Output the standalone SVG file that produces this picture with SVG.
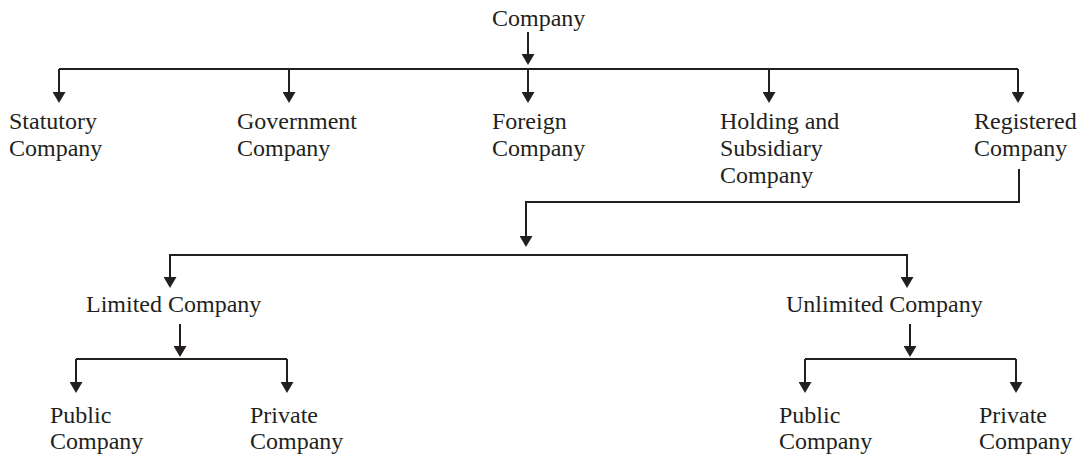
<svg xmlns="http://www.w3.org/2000/svg" width="1087" height="455" viewBox="0 0 1087 455">
<style>
text{font-family:"Liberation Serif","Times New Roman",serif;font-size:24px;fill:#231f20}
.c{fill:none;stroke:#231f20;stroke-width:2}
</style>
<defs>
<marker id="ah" viewBox="0 0 11 13" markerWidth="11" markerHeight="13" refX="5" refY="6.5" markerUnits="userSpaceOnUse" orient="auto">
<path d="M0,0 L11,6.5 L0,13 z" fill="#231f20"/>
</marker>
</defs>
<rect width="1087" height="455" fill="#fff"/>
<g id="connectors">
<path class="c" d="M528,32 V59" marker-end="url(#ah)"/>
<path class="c" d="M59,69 H1018"/>
<path class="c" d="M59,69 V97" marker-end="url(#ah)"/>
<path class="c" d="M289,69 V97" marker-end="url(#ah)"/>
<path class="c" d="M528,69 V97" marker-end="url(#ah)"/>
<path class="c" d="M769,69 V97" marker-end="url(#ah)"/>
<path class="c" d="M1018,69 V97" marker-end="url(#ah)"/>
<path class="c" d="M1019,169 V202 H526 V241" marker-end="url(#ah)"/>
<path class="c" d="M170,282 V255 H907 V282" marker-end="url(#ah)"/>
<path class="c" d="M170,255 V282" marker-end="url(#ah)"/>
<path class="c" d="M180,324 V351" marker-end="url(#ah)"/>
<path class="c" d="M76,359 H287"/>
<path class="c" d="M76,359 V387" marker-end="url(#ah)"/>
<path class="c" d="M287,359 V387" marker-end="url(#ah)"/>
<path class="c" d="M910,324 V351" marker-end="url(#ah)"/>
<path class="c" d="M805,359 H1016"/>
<path class="c" d="M805,359 V387" marker-end="url(#ah)"/>
<path class="c" d="M1016,359 V387" marker-end="url(#ah)"/>
</g>
<g id="company"><text x="492" y="26">Company</text></g>
<g id="statutory"><text x="9" y="129">Statutory</text><text x="9" y="156">Company</text></g>
<g id="government"><text x="237" y="129">Government</text><text x="237" y="156">Company</text></g>
<g id="foreign"><text x="492" y="129">Foreign</text><text x="492" y="156">Company</text></g>
<g id="holding"><text x="720" y="129">Holding and</text><text x="720" y="156">Subsidiary</text><text x="720" y="183">Company</text></g>
<g id="registered"><text x="974" y="129">Registered</text><text x="974" y="156">Company</text></g>
<g id="limited"><text x="86" y="312">Limited Company</text></g>
<g id="unlimited"><text x="786" y="312">Unlimited Company</text></g>
<g id="public1"><text x="50" y="423">Public</text><text x="50" y="449">Company</text></g>
<g id="private1"><text x="250" y="423">Private</text><text x="250" y="449">Company</text></g>
<g id="public2"><text x="779" y="423">Public</text><text x="779" y="449">Company</text></g>
<g id="private2"><text x="979" y="423">Private</text><text x="979" y="449">Company</text></g>
</svg>
